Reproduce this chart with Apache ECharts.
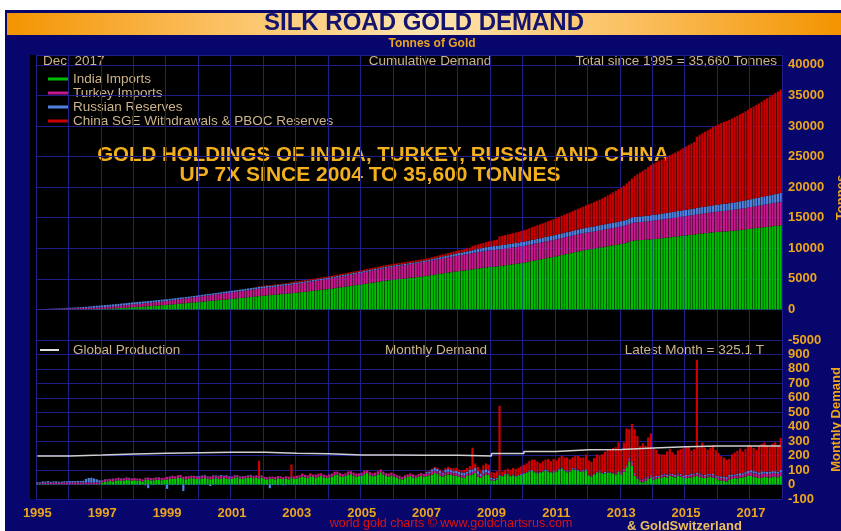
<!DOCTYPE html>
<html>
<head>
<meta charset="utf-8" />
<title>Silk Road Gold Demand</title>
<script src="https://cdn.jsdelivr.net/npm/echarts@6/dist/echarts.min.js"></script>
<style>
  html, body { margin: 0; padding: 0; background: #fff; }
  #main { width: 841px; height: 531px; }
</style>
</head>
<body>
<div id="main"></div>
<script>
// monthly tonnes, one row per year 1995..2017
var startYear = 1995;
var yearLabels = ['1995', '1997', '1999', '2001', '2003', '2005', '2007', '2009', '2011', '2013', '2015', '2017'];

var india = [
  [3,3,3,3,3,2,2,2,2,2,2,2],
  [2,2,2,2,2,2,2,2,2,2,3,3],
  [15,18,22,25,20,28,30,25,28,32,30,27],
  [30,28,25,20,35,32,28,30,35,32,30,33],
  [35,38,42,40,45,48,38,36,40,44,42,38],
  [38,42,45,40,36,40,44,38,42,45,40,38],
  [40,45,50,42,38,45,48,50,44,46,42,48],
  [38,35,40,42,36,44,40,38,42,36,44,40],
  [42,48,55,50,45,58,52,48,55,60,50,45],
  [50,55,65,70,58,52,60,68,72,62,55,58],
  [60,72,80,65,58,62,70,85,68,60,55,62],
  [55,48,40,35,45,52,60,50,45,55,60,55],
  [58,62,70,80,75,60,55,65,70,68,60,62],
  [55,50,45,60,65,70,80,55,45,60,70,65],
  [30,25,35,60,55,65,70,58,62,55,60,65],
  [75,80,90,95,85,78,82,88,95,90,80,85],
  [90,100,110,95,85,90,105,100,95,88,92,98],
  [60,55,70,80,85,75,78,82,80,75,70,88],
  [70,90,120,160,130,60,40,20,15,25,40,50],
  [35,40,45,50,55,50,60,55,50,60,55,45],
  [45,48,50,55,60,52,48,45,50,55,48,44],
  [30,28,25,20,35,40,45,42,48,50,55,62],
  [60,55,50,45,48,52,50,48,55,52,50,60]
];

var turkey = [
  [5,6,8,10,12,10,12,10,12,10,12,13],
  [12,10,14,12,13,11,12,14,10,12,13,11],
  [14,16,15,13,17,15,16,14,15,16,14,15],
  [15,14,16,15,13,17,15,16,14,15,16,14],
  [18,16,20,17,19,18,16,20,18,17,19,18],
  [17,19,18,16,20,18,17,19,18,16,20,18],
  [14,16,15,13,17,15,16,14,15,16,14,15],
  [14,16,15,13,17,15,16,14,15,16,14,15],
  [18,16,20,17,19,18,16,20,18,17,19,18],
  [20,18,22,19,21,20,18,22,20,19,21,20],
  [20,22,18,21,19,20,22,18,21,19,20,20],
  [18,16,20,17,19,18,16,20,18,17,19,18],
  [18,16,20,17,19,18,16,20,18,17,19,18],
  [15,14,16,15,13,17,15,16,14,15,16,14],
  [6,5,4,0,-2,1,0,-1,2,0,1,0],
  [2,3,1,2,4,0,2,3,1,2,3,1],
  [4,5,3,4,6,2,4,5,3,4,5,3],
  [2,3,1,2,4,0,2,3,1,2,3,1],
  [15,18,12,20,25,15,10,12,15,18,12,8],
  [10,12,8,10,14,9,10,11,8,10,12,6],
  [14,12,16,15,13,17,15,12,14,13,16,11],
  [18,16,20,17,19,18,16,20,18,17,19,18],
  [25,22,28,24,26,25,23,27,25,24,26,25]
];

var russia = [
  [8,6,10,8,9,7,8,10,6,8,9,7],
  [10,12,8,11,9,13,25,30,35,28,20,15],
  [2,3,1,2,4,0,2,3,1,2,3,1],
  [-2,1,-3,0,-5,-25,2,-4,1,3,-2,0],
  [-30,2,-4,1,-3,0,-45,2,-3,1,-2,3],
  [5,3,4,2,-10,5,3,4,6,2,4,3],
  [2,3,1,2,4,0,2,3,1,2,3,1],
  [-3,-2,-25,-4,-1,-3,-2,-5,-2,-1,-3,-2],
  [-2,-1,-3,0,-2,-1,-3,-2,-1,-2,-3,-2],
  [0,1,-1,0,1,0,-1,0,1,0,-1,0],
  [-1,0,-2,-1,0,-1,-2,0,-1,-1,0,-2],
  [0,1,-1,0,1,0,-1,0,1,0,-1,0],
  [10,12,15,18,14,16,12,18,20,15,14,16],
  [18,20,22,15,25,18,20,22,18,24,20,18],
  [10,12,8,5,4,6,5,3,6,4,5,7],
  [5,4,6,5,3,6,4,5,7,5,4,6],
  [4,6,5,3,6,4,5,7,5,4,6,5],
  [6,5,3,6,4,5,7,5,4,6,5,4],
  [5,3,6,4,5,7,5,4,6,5,4,6],
  [6,8,7,9,8,10,6,8,9,7,8,10],
  [7,8,9,6,10,8,7,9,8,7,9,8],
  [10,12,11,14,13,12,10,12,13,11,12,14],
  [14,16,13,15,17,14,16,15,13,16,14,17]
];

var china = [
  [0,0,0,0,0,0,0,0,0,0,0,0],
  [0,0,0,0,0,0,0,0,0,0,0,0],
  [0,0,0,0,0,0,0,0,0,0,0,0],
  [0,0,0,0,0,0,0,0,0,0,0,0],
  [0,0,0,0,0,0,0,0,0,0,0,0],
  [0,0,0,0,0,0,0,0,0,0,0,0],
  [0,0,0,0,0,0,0,0,0,0,105,0],
  [0,0,0,0,0,0,0,0,0,2,80,3],
  [2,3,2,1,2,3,2,2,3,2,1,2],
  [2,2,3,2,1,2,3,2,2,3,2,1],
  [3,2,1,2,3,2,2,3,2,1,2,3],
  [2,3,2,2,1,2,3,2,2,3,2,1],
  [5,5,5,8,8,10,10,12,15,15,20,20],
  [15,15,20,25,25,150,30,30,25,35,40,40],
  [40,40,45,480,30,30,35,40,45,50,50,55],
  [55,60,65,70,80,75,60,65,70,80,75,85],
  [70,75,80,85,90,80,75,85,95,90,85,100],
  [100,95,110,120,110,130,140,150,160,170,180,200],
  [150,180,250,200,260,300,280,230,250,220,270,290],
  [200,180,150,140,130,160,170,150,140,160,170,190],
  [200,190,160,170,780,180,220,190,170,180,200,175],
  [160,140,130,120,110,140,150,160,170,150,160,180],
  [170,160,150,180,190,200,180,170,190,200,180,220]
];

// global mine production, tonnes per month, by year
var production = [197,204,212,216,220,224,224,216,213,205,205,202,202,198,215,229,240,243,253,262,266,266,266];

var seriesNames = ['India Imports', 'Turkey Imports', 'Russian Reserves', 'China SGE Withdrawals & PBOC Reserves'];
var cumColors = ['#00bc00', '#c4188c', '#4f82e0', '#c80000'];
var monColors = ['#00cc00', '#c4188c', '#4f82e0', '#d00000'];

function flat(rows) { return [].concat.apply([], rows); }
var monthly = [india, turkey, russia, china].map(flat);
var months = [];
for (var i = 0; i < monthly[0].length; i++) {
  months.push((startYear + Math.floor(i / 12)) + '-' + (i % 12 + 1));
}
function cumulative(vals) {
  var s = 0;
  return vals.map(function (v) { s += v; return s; });
}
var prodLine = production.map(function (v, i) { return [months[i * 12], v]; });
prodLine.push([months[months.length - 1], production[production.length - 1]]);

var gridColor = '#1e1e8a';
var orange = '#eda51c';
var tan = '#ccb48a';
var txtFont = '13.5px "Liberation Sans"';

var series = [];
monthly.forEach(function (vals, k) {
  series.push({
    name: seriesNames[k], type: 'bar', stack: 'cum', xAxisIndex: 0, yAxisIndex: 0,
    barWidth: 2.2, itemStyle: { color: cumColors[k] }, data: cumulative(vals)
  });
});
monthly.forEach(function (vals, k) {
  series.push({
    name: seriesNames[k] + ' monthly', type: 'bar', stack: 'mon', xAxisIndex: 1, yAxisIndex: 1,
    barWidth: 2.2, itemStyle: { color: monColors[k] }, data: vals
  });
});
series.push({
  name: 'Global Production', type: 'line', step: 'end', xAxisIndex: 1, yAxisIndex: 1,
  symbol: 'none', lineStyle: { color: '#d0d0d0', width: 1.5 }, z: 5, data: prodLine
});

function xAxisDef(idx, showLabels) {
  return {
    type: 'category', gridIndex: idx, data: months, boundaryGap: true,
    axisLine: { show: false }, axisTick: { show: false },
    splitLine: { show: true, interval: function (index) { return index % 12 === 0; },
      lineStyle: { color: gridColor, width: 1 } },
    axisLabel: {
      show: showLabels, color: orange, fontWeight: 'bold', fontSize: 13,
      fontFamily: 'Liberation Sans', margin: 8,
      interval: function (index) { return index % 24 === 0; },
      formatter: function (v) { return v.slice(0, 4); }
    }
  };
}

var legendY = [79, 93, 107, 121];
var graphics = [
  { type: 'rect', shape: { x: 5, y: 10, width: 836, height: 521 }, style: { fill: '#06066c' }, z: -10 },
  { type: 'rect', shape: { x: 7, y: 13, width: 834, height: 22 }, z: -9,
    style: { fill: new echarts.graphic.LinearGradient(0, 0, 1, 0, [
      { offset: 0, color: '#f39400' }, { offset: 0.25, color: '#fbc060' },
      { offset: 0.5, color: '#fde4b0' }, { offset: 0.75, color: '#fbc060' },
      { offset: 1, color: '#f39400' }]) } },
  { type: 'rect', shape: { x: 30, y: 55, width: 7, height: 444 }, style: { fill: '#000' }, z: -8 },
  { type: 'text', style: { text: 'SILK ROAD GOLD DEMAND', x: 424, y: 23, align: 'center', verticalAlign: 'middle',
    fill: '#14146e', font: 'bold 24px "Liberation Sans"' } },
  { type: 'text', style: { text: 'Tonnes of Gold', x: 432, y: 44, align: 'center', verticalAlign: 'middle',
    fill: orange, font: 'bold 12px "Liberation Sans"' } },
  { type: 'text', style: { text: 'Dec  2017', x: 43, y: 61, verticalAlign: 'middle', fill: tan, font: txtFont } },
  { type: 'text', style: { text: 'Cumulative Demand', x: 430, y: 61, align: 'center', verticalAlign: 'middle', fill: tan, font: txtFont } },
  { type: 'text', style: { text: 'Total since 1995 = 35,660 Tonnes', x: 777, y: 61, align: 'right', verticalAlign: 'middle', fill: tan, font: txtFont } },
  { type: 'text', style: { text: 'GOLD HOLDINGS OF INDIA, TURKEY, RUSSIA AND CHINA', x: 383, y: 155, align: 'center', verticalAlign: 'middle',
    fill: '#f2b01e', font: 'bold 20.5px "Liberation Sans"' } },
  { type: 'text', style: { text: 'UP 7X SINCE 2004 TO 35,600 TONNES', x: 370, y: 175, align: 'center', verticalAlign: 'middle',
    fill: '#f2b01e', font: 'bold 21px "Liberation Sans"' } },
  { type: 'line', shape: { x1: 40, y1: 350, x2: 59, y2: 350 }, style: { stroke: '#e0e0e0', lineWidth: 2 } },
  { type: 'text', style: { text: 'Global Production', x: 73, y: 350, verticalAlign: 'middle', fill: tan, font: txtFont } },
  { type: 'text', style: { text: 'Monthly Demand', x: 436, y: 350, align: 'center', verticalAlign: 'middle', fill: tan, font: txtFont } },
  { type: 'text', style: { text: 'Latest Month = 325.1 T', x: 764, y: 350, align: 'right', verticalAlign: 'middle', fill: tan, font: txtFont } },
  { type: 'text', style: { text: 'world gold charts \u00a9 www.goldchartsrus.com', x: 451, y: 524, align: 'center', verticalAlign: 'middle',
    fill: '#e01010', font: '12.5px "Liberation Sans"' } },
  { type: 'text', style: { text: '& GoldSwitzerland', x: 627, y: 526, verticalAlign: 'middle',
    fill: '#f0c060', font: 'bold 13px "Liberation Sans"' } }
];
seriesNames.forEach(function (name, k) {
  graphics.push({ type: 'line', shape: { x1: 48, y1: legendY[k], x2: 68, y2: legendY[k] }, style: { stroke: cumColors[k], lineWidth: 3 } });
  graphics.push({ type: 'text', style: { text: name, x: 73, y: legendY[k], verticalAlign: 'middle', fill: tan, font: txtFont } });
});

var myChart = echarts.init(document.getElementById('main'));
var option = {
  animation: false,
  backgroundColor: '#ffffff',
  grid: [
    { left: 36, right: 59, top: 55, height: 285, show: true, backgroundColor: '#000', borderWidth: 0, outerBoundsMode: 'none' },
    { left: 36, right: 59, top: 340, height: 159, show: true, backgroundColor: '#000', borderWidth: 0, outerBoundsMode: 'none' }
  ],
  xAxis: [xAxisDef(0, false), xAxisDef(1, true)],
  yAxis: [
    {
      type: 'value', gridIndex: 0, position: 'right', min: -5000, max: 41600, interval: 5000,
      axisLine: { show: false }, axisTick: { show: false },
      splitLine: { lineStyle: { color: gridColor, width: 1 } },
      axisLabel: { color: orange, fontWeight: 'bold', fontSize: 13, fontFamily: 'Liberation Sans', margin: 6,
        formatter: function (v) { return v % 5000 === 0 ? String(v) : ''; } },
      name: 'Tonnes', nameLocation: 'middle', nameGap: 52,
      nameTextStyle: { color: orange, fontWeight: 'bold', fontSize: 13, fontFamily: 'Liberation Sans' }
    },
    {
      type: 'value', gridIndex: 1, position: 'right', min: -100, max: 1000, interval: 100,
      axisLine: { show: false }, axisTick: { show: false },
      splitLine: { lineStyle: { color: gridColor, width: 1 } },
      axisLabel: { color: orange, fontWeight: 'bold', fontSize: 13, fontFamily: 'Liberation Sans', margin: 6,
        formatter: function (v) { return v < 1000 ? String(v) : ''; } },
      name: 'Monthly Demand', nameLocation: 'middle', nameGap: 48,
      nameTextStyle: { color: orange, fontWeight: 'bold', fontSize: 13, fontFamily: 'Liberation Sans' }
    }
  ],
  graphic: { elements: graphics },
  series: series
};
myChart.setOption(option);
</script>
</body>
</html>
